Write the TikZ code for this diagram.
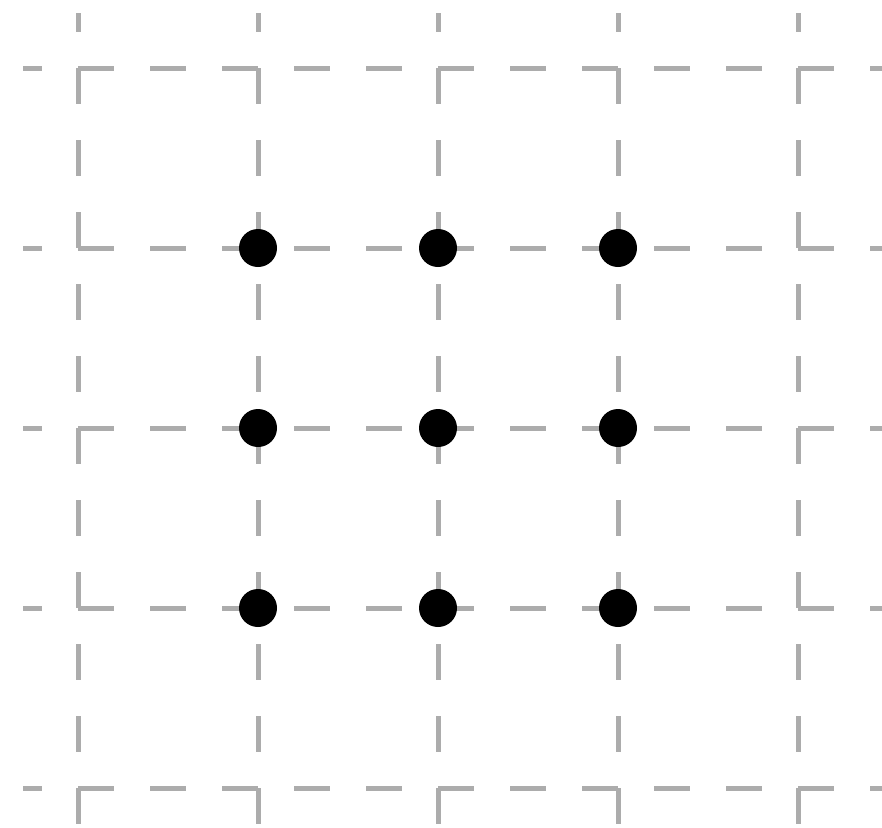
\documentclass[tikz,border=0pt]{standalone}
\begin{document}
\begin{tikzpicture}[x=1pt,y=-1pt,
  gridline/.style={draw=gray!65, line width=5pt, dash pattern=on 36pt off 36pt, dash phase=17pt},
  dot/.style={circle, fill=black, minimum size=38pt, inner sep=0pt}]
\useasboundingbox (0,0) rectangle (882,827);
\clip (0,0) rectangle (882,827);
\foreach \y in {68,248,428,608,788}
  \draw[gridline] (23,\y) -- (882,\y);
\foreach \x in {78,258,438,618,798}
  \draw[gridline] (\x,13) -- (\x,827);
\node[dot] (d11) at (258,248) {};
\node[dot] (d12) at (438,248) {};
\node[dot] (d13) at (618,248) {};
\node[dot] (d21) at (258,428) {};
\node[dot] (d22) at (438,428) {};
\node[dot] (d23) at (618,428) {};
\node[dot] (d31) at (258,608) {};
\node[dot] (d32) at (438,608) {};
\node[dot] (d33) at (618,608) {};
\end{tikzpicture}
\end{document}
